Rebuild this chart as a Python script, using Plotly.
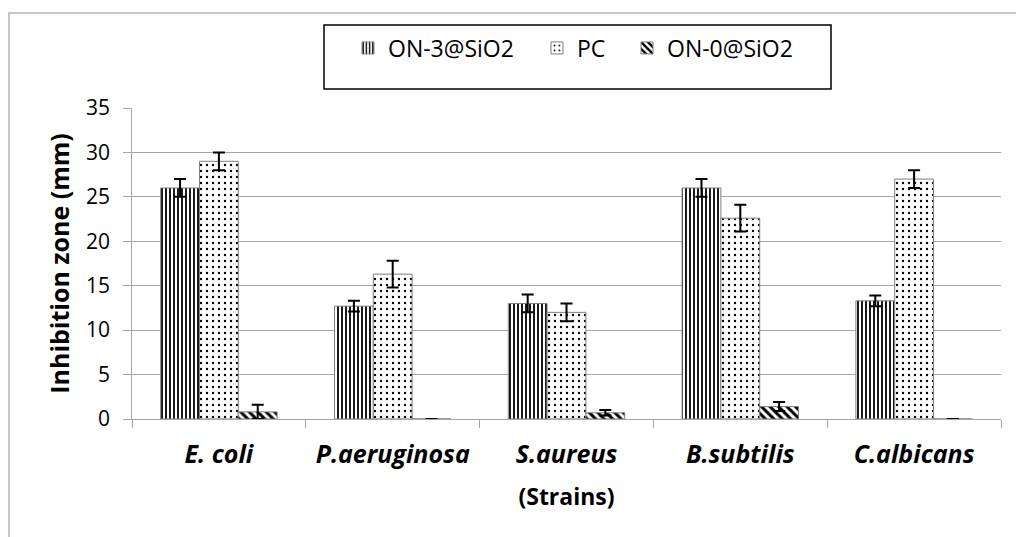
import plotly.graph_objects as go

strains = ["E. coli", "P.aeruginosa", "S.aureus", "B.subtilis", "C.albicans"]
series_names = ["ON-3@SiO2", "PC", "ON-0@SiO2"]
on3_values = [26.0, 12.7, 13.0, 26.0, 13.3]
on3_errors = [1.0, 0.6, 1.0, 1.0, 0.6]
pc_values = [29.0, 16.3, 12.0, 22.6, 27.0]
pc_errors = [1.0, 1.5, 1.0, 1.5, 1.0]
on0_values = [0.8, 0.0, 0.7, 1.4, 0.0]
on0_errors = [0.8, 0.0, 0.3, 0.5, 0.0]
y_range = [0, 35]
y_step = 5

FONT = "Open Sans"
W, H = 1016, 537
L, R, T, B = 110, 15, 108, 118
PLOT_LEFT = 132
PW, PH = W - L - R, H - T - B


def px_x(p):
    return (p - L) / PW


def px_y(p):
    return (H - B - p) / PH


patterns = [
    dict(shape="|", size=4, solidity=0.45, fgcolor="black", bgcolor="white", fillmode="replace"),
    dict(shape=".", size=6, solidity=0.12, fgcolor="black", bgcolor="white", fillmode="replace"),
    dict(shape="\\", size=6, solidity=0.5, fgcolor="black", bgcolor="white", fillmode="replace"),
]
legend_ids = ["legend", "legend2", "legend3"]
legend_text_px = [388, 577, 667]

fig = go.Figure()
for name, vals, errs, pat, lg in zip(series_names, [on3_values, pc_values, on0_values],
                                     [on3_errors, pc_errors, on0_errors], patterns, legend_ids):
    fig.add_trace(go.Bar(
        x=strains, y=vals, name=name, legend=lg,
        marker=dict(color="white", pattern=pat, line=dict(color="#7f7f7f", width=1)),
        error_y=dict(type="data", array=errs, visible=True, color="black", thickness=2, width=6),
    ))

legend_style = dict(
    orientation="h", xanchor="left", yanchor="middle", y=px_y(48),
    font=dict(family=FONT, size=23, color="black"),
    bgcolor="rgba(0,0,0,0)", borderwidth=0,
)
layout_legends = {}
for lg, tx in zip(legend_ids, legend_text_px):
    layout_legends[lg] = dict(legend_style, x=px_x(tx - 40))

fig.update_layout(
    width=W, height=H,
    margin=dict(l=L, r=R, t=T, b=B),
    paper_bgcolor="white", plot_bgcolor="white",
    barmode="group", bargap=0.33, bargroupgap=0,
    font=dict(family=FONT, color="black"),
    showlegend=True,
    shapes=[
        dict(type="rect", xref="paper", yref="paper",
             x0=px_x(9), x1=px_x(1100), y0=px_y(700), y1=px_y(13),
             line=dict(color="#b4b4b4", width=1.5), fillcolor="rgba(0,0,0,0)", layer="below"),
        dict(type="rect", xref="paper", yref="paper",
             x0=px_x(324), x1=px_x(831), y0=px_y(89), y1=px_y(25),
             line=dict(color="black", width=1.5), fillcolor="rgba(0,0,0,0)"),
    ],
    xaxis=dict(
        domain=[px_x(PLOT_LEFT), 1],
        showline=True, linecolor="#a6a6a6", linewidth=1.3, showgrid=False,
        ticks="outside", tickson="boundaries", ticklen=8, tickcolor="#a6a6a6", tickwidth=1.3,
        ticklabelstandoff=13,
        tickfont=dict(family=FONT, size=25, color="black", weight="bold", style="italic"),
        title=dict(text="(Strains)", standoff=19,
                   font=dict(family=FONT, size=23, color="black", weight="bold")),
    ),
    yaxis=dict(
        range=y_range, dtick=y_step, showgrid=True, gridcolor="#a6a6a6", gridwidth=1.3,
        showline=True, linecolor="#a6a6a6", linewidth=1.3, zeroline=False,
        ticks="outside", ticklen=8, tickcolor="#a6a6a6", tickwidth=1.3,
        showticklabels=False,
    ),
    yaxis2=dict(
        overlaying="y", anchor="free", position=0, side="left",
        range=y_range, dtick=y_step, showgrid=False, showline=False, zeroline=False,
        ticks="", showticklabels=True,
        tickfont=dict(family=FONT, size=21, color="black"),
        title=dict(text="Inhibition zone (mm)", standoff=8,
                   font=dict(family=FONT, size=25, color="black", weight="bold")),
    ),
    **layout_legends,
)

# an invisible trace so the label axis is drawn
fig.add_trace(go.Scatter(x=[strains[0]], y=[y_range[0]], yaxis="y2", mode="markers",
                         marker=dict(opacity=0), showlegend=False, hoverinfo="skip"))

fig.write_html("out.html")
